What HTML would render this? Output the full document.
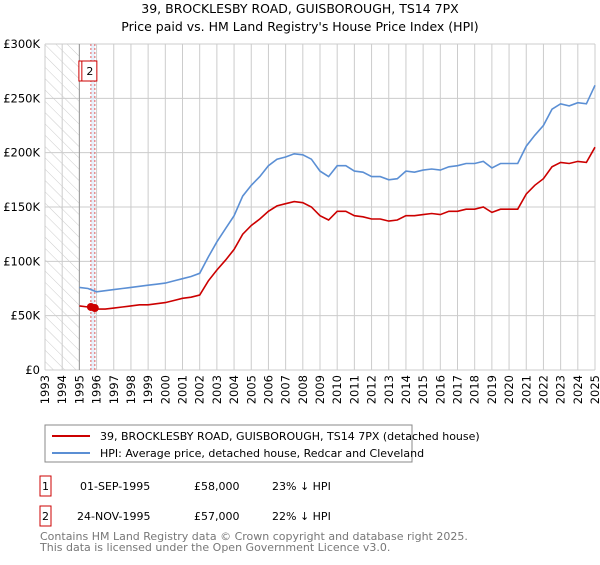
<!DOCTYPE html>
<html><head><meta charset="utf-8"><style>
body{margin:0;background:#fff;font-family:"Liberation Sans","DejaVu Sans",sans-serif;}
svg text{font-family:"DejaVu Sans","Liberation Sans",sans-serif;}
</style></head><body>
<svg id="c" width="600" height="560" xmlns="http://www.w3.org/2000/svg">
<defs><pattern id="hatch" width="8" height="8" patternUnits="userSpaceOnUse" patternTransform="rotate(-45)"><line x1="0" y1="0" x2="0" y2="8" stroke="#ccc" stroke-width="1"/></pattern></defs>
<text x="300" y="13" text-anchor="middle" font-size="12.5">39, BROCKLESBY ROAD, GUISBOROUGH, TS14 7PX</text>
<text x="300" y="31" text-anchor="middle" font-size="12.5">Price paid vs. HM Land Registry's House Price Index (HPI)</text>
<g id="grid"></g><g id="marks"></g>
<rect x="45" y="425" width="367" height="37" fill="#fff" stroke="#888"/>
<line x1="52" y1="436" x2="90" y2="436" stroke="#cc0000" stroke-width="2"/>
<text x="100" y="440" font-size="11">39, BROCKLESBY ROAD, GUISBOROUGH, TS14 7PX (detached house)</text>
<line x1="52" y1="453" x2="90" y2="453" stroke="#5b8fd4" stroke-width="2"/>
<text x="100" y="457" font-size="11">HPI: Average price, detached house, Redcar and Cleveland</text>
<g>
<rect x="40" y="476" width="11" height="20" fill="none" stroke="#cc0000"/><text x="45.5" y="490" text-anchor="middle" font-size="11">1</text>
<text x="80" y="490" font-size="11">01-SEP-1995</text><text x="194" y="490" font-size="11">£58,000</text><text x="272" y="490" font-size="11">23% ↓ HPI</text></g>
<g>
<rect x="40" y="506" width="11" height="20" fill="none" stroke="#cc0000"/><text x="45.5" y="520" text-anchor="middle" font-size="11">2</text>
<text x="77" y="520" font-size="11">24-NOV-1995</text><text x="194" y="520" font-size="11">£57,000</text><text x="272" y="520" font-size="11">22% ↓ HPI</text></g>
<text x="40" y="540" font-size="11" fill="#777">Contains HM Land Registry data © Crown copyright and database right 2025.</text>
<text x="40" y="551" font-size="11" fill="#777">This data is licensed under the Open Government Licence v3.0.</text>
</svg>
<script>
const years=[1993,1994,1995,1996,1997,1998,1999,2000,2001,2002,2003,2004,2005,2006,2007,2008,2009,2010,2011,2012,2013,2014,2015,2016,2017,2018,2019,2020,2021,2022,2023,2024,2025];
const yTicks=[0,50,100,150,200,250,300];
const yTickLabels=["£0","£50K","£100K","£150K","£200K","£250K","£300K"];
const seriesStart=1995, seriesStep=0.5;
const hpiValues=[76,75,72,73,74,75,76,77,78,79,80,82,84,86,89,104,118,130,142,160,170,178,188,194,196,199,198,194,183,178,188,188,183,182,178,178,175,176,183,182,184,185,184,187,188,190,190,192,186,190,190,190,206,216,225,240,245,243,246,245,262];
const propValues=[59,58,56,56,57,58,59,60,60,61,62,64,66,67,69,82,92,101,111,125,133,139,146,151,153,155,154,150,142,138,146,146,142,141,139,139,137,138,142,142,143,144,143,146,146,148,148,150,145,148,148,148,162,170,176,187,191,190,192,191,205];
const saleDates=[1995.67,1995.9];
const salePrices=[58,57];
const X0=45,X1=595,Y0=370,Y1=44;
const xs=t=>X0+(t-1993)/(2025-1993)*(X1-X0);
const ys=v=>Y0-v/300*(Y0-Y1);
const NS="http://www.w3.org/2000/svg";
function mk(p,tag,a){const e=document.createElementNS(NS,tag);for(const k in a)e.setAttribute(k,a[k]);p.appendChild(e);return e;}
const g=document.getElementById('grid'),m=document.getElementById('marks');
const hat=mk(g,'rect',{x:X0,y:Y1,width:xs(1995)-X0,height:Y0-Y1,fill:'url(#hatch)'});


years.forEach(y=>{const l=mk(g,'line',{x1:xs(y),x2:xs(y),y1:Y1,y2:Y0,stroke:'#ccc'});


const t=mk(g,'text',{x:0,y:0,'text-anchor':'end','font-size':'11.5',transform:'translate('+(xs(y)+4)+',375) rotate(-90)'});t.textContent=y;

});
yTicks.forEach((v,i)=>{const l=mk(g,'line',{x1:X0,x2:X1,y1:ys(v),y2:ys(v),stroke:'#ccc'});


const t=mk(g,'text',{x:40,y:ys(v)+4,'text-anchor':'end','font-size':'11.5'});t.textContent=yTickLabels[i];

});
const ax=mk(g,'line',{x1:xs(1995),x2:xs(1995),y1:Y1,y2:Y0,stroke:'#999'});


const band=mk(m,'rect',{x:xs(saleDates[0]),y:Y1,width:xs(saleDates[1])-xs(saleDates[0]),height:Y0-Y1,fill:'#dde8f8',opacity:0.7});


saleDates.forEach((d,i)=>{const l=mk(m,'line',{x1:xs(d),x2:xs(d),y1:Y1,y2:Y0,stroke:'#e06060','stroke-dasharray':'2,2'});

});
saleDates.forEach((d,i)=>{const b=mk(m,'rect',{x:xs(d)-12+i*-1,y:Y1+17,width:15,height:20,fill:'#fff',stroke:'#cc0000'});


const t=mk(m,'text',{x:xs(d)-5,y:Y1+31,'text-anchor':'middle','font-size':'11'});t.textContent=i+1;

});
function path(vals,color,name){const d=vals.map((v,i)=>(i?'L':'M')+xs(seriesStart+i*seriesStep).toFixed(1)+','+ys(v).toFixed(1)).join('');
const p=mk(m,'path',{d:d,fill:'none',stroke:color,'stroke-width':1.6});

}
path(hpiValues,'#5b8fd4','hpi-line');
path(propValues,'#cc0000','property-line');
saleDates.forEach((d,i)=>{const c=mk(m,'circle',{cx:xs(d),cy:ys(salePrices[i]),r:4,fill:'#cc0000'});

});
</script>
</body></html>
